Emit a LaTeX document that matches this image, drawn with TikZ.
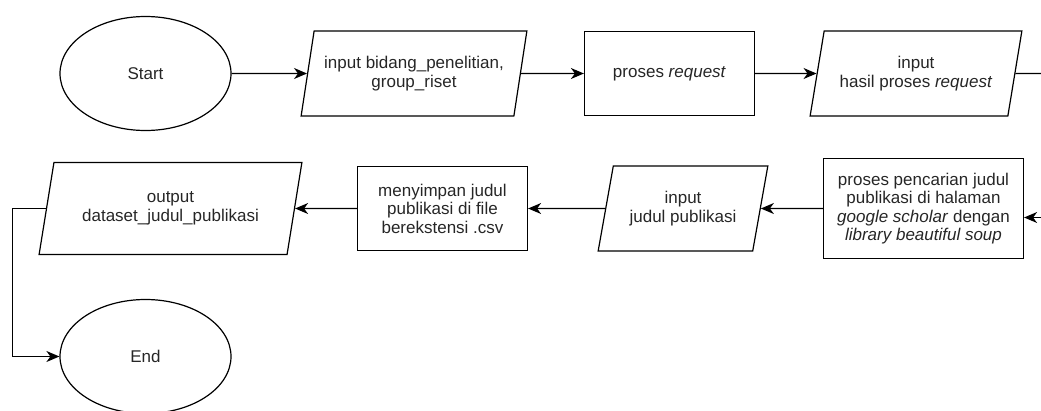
\documentclass[tikz,border=0pt]{standalone}
\usepackage{fontspec}
\setmainfont{Liberation Sans}
\usetikzlibrary{shapes.geometric,arrows.meta}

\begin{document}
\begin{tikzpicture}[x=1pt,y=-1pt,line width=1.2pt,
  every node/.style={font=\fontsize{17}{18.5}\selectfont,align=center,text=black!85},
  terminal/.style={draw,ellipse,minimum width=171pt,minimum height=114pt,inner sep=0pt},
  io/.style={draw,trapezium,trapezium left angle=72,trapezium right angle=108,
    trapezium stretches=true,inner sep=1pt},
  process/.style={draw,rectangle,inner sep=1pt},
  arr/.style={-{Stealth[length=13pt,width=11pt,inset=4pt]}}]
\useasboundingbox (0,0) rectangle (1041,410);

% first row
\node[terminal] (start) at (145.5,73.5) {Start};
\node[io,minimum width=226pt,minimum height=85pt] (inbidang) at (414,73.5)
  {input bidang\_penelitian,\\group\_riset};
\node[process,minimum width=170pt,minimum height=84pt] (request) at (669.5,73.5)
  {proses \textit{request}};
\node[io,minimum width=212pt,minimum height=85pt] (inhasil) at (916,73.5)
  {input\\hasil proses \textit{request}};
\coordinate (outR) at (1060,73.5);

% second row
\coordinate (inR) at (1060,217.5);
\node[process,minimum width=200pt,minimum height=100pt] (cari) at (923.5,208.5)
  {proses pencarian judul\\publikasi di halaman\\\textit{google scholar} dengan\\\textit{library beautiful soup}};
\node[io,minimum width=170pt,minimum height=85pt] (injudul) at (683,208.5)
  {input\\judul publikasi};
\node[process,minimum width=170pt,minimum height=84pt] (simpan) at (442.5,208.5)
  {menyimpan judul\\publikasi di file\\berekstensi .csv};
\node[io,minimum width=263pt,minimum height=92pt] (output) at (170.5,208.5)
  {output\\dataset\_judul\_publikasi};
\coordinate (turn) at (12.5,208.5);
\node[terminal] (end) at (145.5,356.5) {End};

% connectors
\draw[arr] (start) -- (inbidang);
\draw[arr] (inbidang) -- (request);
\draw[arr] (request) -- (inhasil);
\draw (inhasil) -- (outR);
\draw[arr] (inR) -- (inR -| cari.east);
\draw[arr] (cari) -- (injudul);
\draw[arr] (injudul) -- (simpan);
\draw[arr] (simpan) -- (output);
\draw[arr] (output.left side) -- (turn) |- (end);
\end{tikzpicture}
\end{document}
